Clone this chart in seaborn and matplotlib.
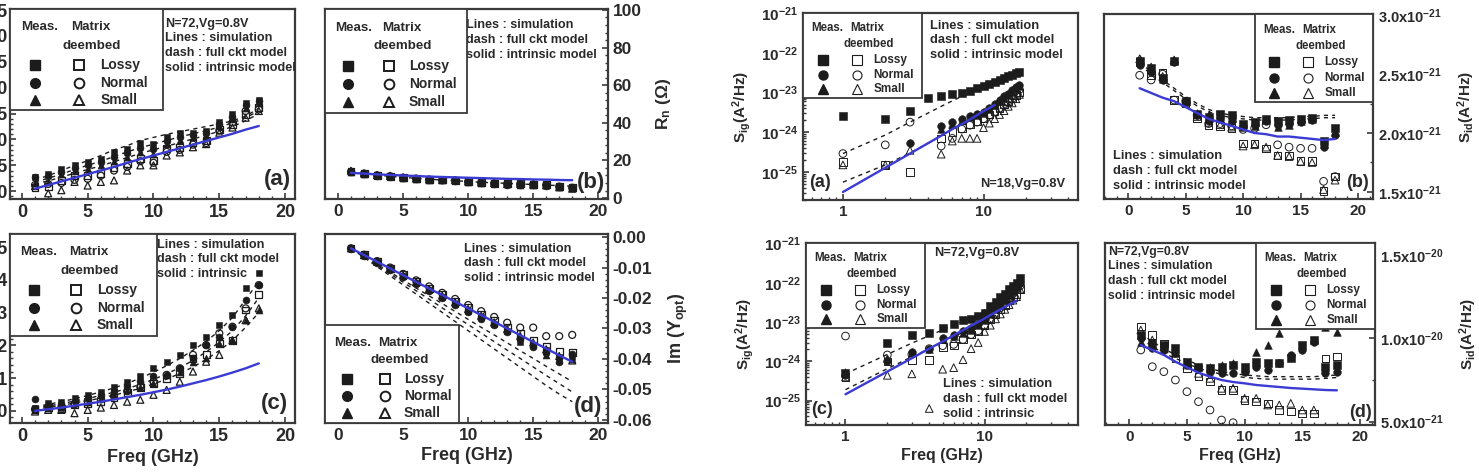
import numpy as np
import pandas as pd
import seaborn as sns
import matplotlib.pyplot as plt
from matplotlib.patches import Rectangle
from matplotlib.ticker import (MultipleLocator, AutoMinorLocator, FuncFormatter,
                               LogLocator, NullFormatter, LogFormatterMathtext)

nan = np.nan
freq = list(range(1, 19))

# ---- left block, N=72 : NFmin ----
nf_ml = [0.27, 0.34, 0.43, 0.50, 0.56, 0.63, 0.75, 0.82, 0.94, 0.91, 1.04, 1.13, 1.13, 1.17, 1.33, 1.49, 1.71, 1.77]
nf_mn = [0.28, 0.30, 0.38, 0.45, 0.50, 0.57, 0.66, 0.74, 0.84, 0.82, 0.97, 1.05, 1.08, 1.12, 1.29, 1.44, 1.66, 1.74]
nf_ms = [0.16, 0.18, 0.34, 0.40, 0.43, 0.50, 0.59, 0.66, 0.75, 0.72, 0.91, 0.98, 1.04, 1.07, 1.26, 1.39, 1.61, 1.71]
nf_dl = [0.08, 0.10, 0.21, 0.31, 0.31, 0.34, 0.46, 0.53, 0.63, 0.59, 0.82, 0.85, 0.94, 0.98, 1.20, 1.29, 1.49, 1.61]
nf_dn = [0.12, 0.14, 0.16, 0.22, 0.24, 0.30, 0.40, 0.47, 0.58, 0.55, 0.76, 0.80, 0.90, 0.93, 1.17, 1.33, 1.55, 1.58]
nf_ds = [0.10, -0.04, 0.02, 0.18, 0.11, 0.18, 0.21, 0.40, 0.50, 0.50, 0.69, 0.75, 0.85, 0.91, 1.13, 1.23, 1.42, 1.55]
nf_fc1 = [0.22, 0.30, 0.40, 0.50, 0.59, 0.69, 0.80, 0.88, 0.98, 1.04, 1.10, 1.15, 1.20, 1.25, 1.30, 1.36, 1.45, 1.60]
nf_fc2 = [0.18, 0.25, 0.33, 0.42, 0.50, 0.58, 0.67, 0.76, 0.84, 0.91, 0.98, 1.05, 1.11, 1.17, 1.24, 1.32, 1.42, 1.55]
nf_fc3 = [0.14, 0.20, 0.27, 0.35, 0.42, 0.49, 0.57, 0.65, 0.73, 0.80, 0.87, 0.94, 1.01, 1.08, 1.16, 1.25, 1.36, 1.50]
nf_int = [0.05, 0.12, 0.19, 0.26, 0.33, 0.40, 0.47, 0.55, 0.62, 0.69, 0.76, 0.83, 0.90, 0.97, 1.04, 1.11, 1.19, 1.26]

# ---- Rn (ohm) ----
rn_ml = [13.9, 13.0, 12.1, 11.6, 10.9, 10.4, 9.8, 9.5, 9.5, 8.6, 8.1, 7.7, 7.4, 7.4, 7.2, 6.8, 6.0, 5.6]
rn_mn = [13.6, 12.8, 11.9, 11.4, 10.7, 10.2, 9.7, 9.4, 9.3, 8.5, 8.0, 7.6, 7.2, 7.1, 6.9, 6.6, 5.8, 5.3]
rn_ms = [13.8, 12.9, 12.0, 11.5, 10.8, 10.3, 9.8, 9.4, 9.4, 8.6, 8.1, 7.8, 7.3, 7.2, 7.0, 6.7, 5.9, 5.4]
rn_dl = [14.2, 13.1, 12.2, 11.7, 11.0, 10.5, 9.9, 9.6, 9.5, 8.8, 8.3, 7.9, 7.6, 7.5, 7.4, 7.0, 6.3, 5.8]
rn_dn = [14.0, 13.0, 12.1, 11.6, 10.8, 10.3, 9.8, 9.5, 9.4, 8.7, 8.2, 7.8, 7.5, 7.4, 7.3, 6.9, 6.1, 5.5]
rn_ds = [14.5, 13.1, 12.2, 11.8, 11.0, 10.4, 9.9, 9.6, 9.6, 8.8, 8.3, 8.0, 7.5, 7.6, 7.2, 6.8, 5.8, 5.0]
rn_fc1 = [14.0, 13.0, 12.2, 11.6, 11.0, 10.5, 10.0, 9.6, 9.2, 8.8, 8.4, 8.1, 7.8, 7.5, 7.2, 6.9, 6.6, 6.3]
rn_int = [13.4, 13.0, 12.6, 12.3, 12.0, 11.7, 11.4, 11.2, 11.0, 10.8, 10.6, 10.4, 10.2, 10.1, 9.9, 9.8, 9.6, 9.5]

# ---- Re(Yopt) ----
re_ml = [0.10, 0.23, 0.28, 0.39, 0.49, 0.59, 0.74, 0.89, 1.05, 1.30, 1.50, 1.71, 2.01, 2.27, 2.62, 2.93, 3.74, 4.20]
re_mn = [0.36, 0.15, 0.20, 0.30, 0.38, 0.48, 0.62, 0.75, 0.90, 1.05, 1.10, 1.30, 1.61, 2.01, 2.27, 2.57, 3.38, 3.84]
re_ms = [0.05, 0.08, 0.13, 0.23, 0.28, 0.39, 0.49, 0.64, 0.74, 0.84, 1.10, 1.20, 1.50, 1.61, 2.06, 2.16, 2.77, 3.08]
re_dl = [0.03, 0.10, 0.08, 0.18, 0.23, 0.30, 0.40, 0.55, 0.70, 0.84, 1.00, 1.15, 1.60, 1.71, 2.06, 2.16, 3.08, 3.54]
re_dn = [0.05, 0.12, 0.10, 0.20, 0.30, 0.35, 0.45, 0.60, 0.74, 0.90, 1.10, 1.30, 1.71, 2.01, 2.37, 2.57, 3.13, 3.84]
re_ds = [-0.02, 0.03, 0.03, -0.07, 0.03, 0.10, 0.18, 0.28, 0.34, 0.49, 0.64, 0.89, 1.20, 1.50, 1.71, 2.16, 2.77, 3.13]
re_fc1 = [0.12, 0.20, 0.28, 0.37, 0.47, 0.58, 0.70, 0.84, 1.00, 1.18, 1.38, 1.60, 1.85, 2.12, 2.45, 2.85, 3.40, 3.95]
re_fc2 = [0.08, 0.15, 0.22, 0.30, 0.38, 0.47, 0.57, 0.68, 0.81, 0.96, 1.13, 1.32, 1.54, 1.80, 2.10, 2.45, 2.90, 3.45]
re_fc3 = [0.05, 0.11, 0.17, 0.24, 0.31, 0.39, 0.48, 0.58, 0.69, 0.82, 0.97, 1.14, 1.34, 1.57, 1.84, 2.15, 2.55, 3.00]
re_int = [0.00, 0.05, 0.10, 0.16, 0.22, 0.28, 0.35, 0.42, 0.49, 0.57, 0.65, 0.74, 0.84, 0.94, 1.05, 1.17, 1.30, 1.45]

# ---- Im(Yopt) ----
im_ml = [-0.0037, -0.0060, -0.0083, -0.0106, -0.0128, -0.0151, -0.0173, -0.0196, -0.0218, -0.0241, -0.0263, -0.0286, -0.0309, -0.0343, -0.0354, -0.0370, -0.0395, -0.0392]
im_mn = [-0.0038, -0.0061, -0.0084, -0.0107, -0.0130, -0.0153, -0.0176, -0.0200, -0.0222, -0.0245, -0.0268, -0.0290, -0.0313, -0.0335, -0.0360, -0.0381, -0.0409, -0.0385]
im_ms = [-0.0036, -0.0058, -0.0080, -0.0103, -0.0125, -0.0148, -0.0170, -0.0193, -0.0215, -0.0238, -0.0260, -0.0282, -0.0305, -0.0328, -0.0350, -0.0387, -0.0402, -0.0400]
im_dl = [-0.0036, -0.0058, -0.0080, -0.0102, -0.0124, -0.0146, -0.0168, -0.0190, -0.0211, -0.0232, -0.0254, -0.0275, -0.0296, -0.0317, -0.0338, -0.0360, -0.0375, -0.0380]
im_dn = [-0.0037, -0.0058, -0.0079, -0.0100, -0.0121, -0.0142, -0.0162, -0.0183, -0.0203, -0.0223, -0.0243, -0.0262, -0.0281, -0.0297, -0.0297, -0.0325, -0.0325, -0.0321]
im_ds = [-0.0037, -0.0059, -0.0081, -0.0103, -0.0126, -0.0148, -0.0170, -0.0192, -0.0214, -0.0236, -0.0258, -0.0280, -0.0302, -0.0324, -0.0346, -0.0368, -0.0390, -0.0405]
im_fc1 = [-0.0037, -0.0063, -0.0089, -0.0115, -0.0141, -0.0167, -0.0193, -0.0218, -0.0244, -0.0270, -0.0296, -0.0321, -0.0347, -0.0373, -0.0398, -0.0424, -0.0449, -0.0474]
im_fc2 = [-0.0037, -0.0065, -0.0093, -0.0121, -0.0148, -0.0176, -0.0204, -0.0232, -0.0260, -0.0287, -0.0315, -0.0343, -0.0371, -0.0398, -0.0426, -0.0454, -0.0481, -0.0508]
im_fc3 = [-0.0037, -0.0067, -0.0097, -0.0127, -0.0157, -0.0187, -0.0217, -0.0247, -0.0277, -0.0307, -0.0337, -0.0367, -0.0397, -0.0427, -0.0457, -0.0487, -0.0515, -0.0540]
im_int = [-0.0037, -0.0059, -0.0081, -0.0103, -0.0125, -0.0147, -0.0169, -0.0190, -0.0212, -0.0234, -0.0256, -0.0278, -0.0300, -0.0322, -0.0344, -0.0366, -0.0388, -0.0409]

# ---- right block : Sig, N=18 (A^2/Hz) ----
sig18_ml = [2.6e-24, 2.2e-24, 3.4e-24, 7.5e-24, 8.0e-24, 9.0e-24, 1.0e-23, 1.1e-23, 1.3e-23, 1.5e-23, 1.7e-23, 1.9e-23, 2.1e-23, 2.3e-23, 2.6e-23, 2.8e-23, 3.1e-23, 3.3e-23]
sig18_mn = [nan, nan, 5.5e-25, nan, 1.4e-24, 1.8e-24, 2.2e-24, 2.6e-24, 2.9e-24, 3.3e-24, 4.2e-24, 5.3e-24, 6.5e-24, 8.0e-24, 9.5e-24, 1.15e-23, 1.35e-23, 1.6e-23]
sig18_ms = [nan, nan, nan, nan, 1.2e-24, 1.6e-24, 2.0e-24, 2.4e-24, 2.7e-24, 3.0e-24, 3.9e-24, 5.0e-24, 6.0e-24, 7.4e-24, 8.8e-24, 1.05e-23, 1.25e-23, 1.5e-23]
sig18_dl = [1.8e-25, 1.5e-25, 1.0e-25, nan, 7.0e-25, 1.0e-24, 1.3e-24, 1.6e-24, 1.9e-24, 2.3e-24, 2.8e-24, 3.4e-24, 4.1e-24, 5.0e-24, 6.0e-24, 7.2e-24, 8.6e-24, 1.0e-23]
sig18_dn = [2.9e-25, 4.8e-25, 1.8e-24, nan, 4.5e-25, 7.0e-25, 1.2e-24, 1.5e-24, 1.8e-24, 2.2e-24, 2.7e-24, 3.3e-24, 4.0e-24, 4.8e-24, 5.8e-24, 7.0e-24, 8.5e-24, 1.2e-23]
sig18_ds = [1.5e-25, 1.5e-25, 3.5e-25, nan, 2.8e-25, 6.0e-25, 7.0e-25, 7.0e-25, 7.0e-25, 1.3e-24, 1.7e-24, 2.2e-24, 2.8e-24, 3.5e-24, 4.5e-24, 5.5e-24, 7.0e-24, 9.0e-24]
sig18_fc1 = [2.9e-25, 8.5e-25, 1.8e-24, 3.0e-24, 4.5e-24, 6.2e-24, 8.0e-24, 9.8e-24, 1.2e-23, 1.4e-23, 1.6e-23, 1.85e-23, 2.1e-23, 2.3e-23, 2.55e-23, 2.8e-23, 3.05e-23, 3.3e-23]
sig18_fc2 = [5.5e-26, 1.5e-25, 3.0e-25, 5.2e-25, 8.2e-25, 1.2e-24, 1.6e-24, 2.0e-24, 2.5e-24, 3.0e-24, 3.7e-24, 4.6e-24, 5.6e-24, 7.0e-24, 8.5e-24, 1.05e-23, 1.3e-23, 1.6e-23]
sig18_int = [3.1e-26, 1.27e-25, 2.9e-25, 5.2e-25, 8.2e-25, 1.2e-24, 1.6e-24, 2.1e-24, 2.7e-24, 3.4e-24, 4.1e-24, 4.9e-24]

# ---- Sid, N=18 (x1e-21 A^2/Hz) ----
sid18_ml = [2.61, 2.55, 2.47, 2.61, 2.27, 2.16, 2.14, 2.16, 2.15, 2.08, 2.09, 2.12, 2.10, 2.11, 2.12, 2.13, 1.93, 2.04]
sid18_mn = [2.58, 2.52, 2.45, 2.60, 2.26, 2.15, 2.10, 2.12, 2.10, 2.06, 2.07, 2.10, 2.07, 2.08, 2.09, 2.11, 1.88, 1.98]
sid18_ms = [2.63, 2.54, 2.46, 2.62, 2.27, 2.17, 2.16, 2.14, 2.13, 2.05, 2.06, 2.11, 2.05, 2.07, 2.10, 2.12, 1.91, 2.01]
sid18_dl = [2.60, 2.49, 2.51, 2.28, 2.25, 2.13, 2.07, 2.06, 2.04, 1.91, 1.91, 1.87, 1.81, 1.81, 1.76, 1.76, 1.51, 1.63]
sid18_dn = [2.49, 2.45, 2.50, 2.28, 2.27, 2.15, 2.08, 2.08, 2.06, 2.03, 2.04, 2.07, 1.90, 1.88, 1.87, 1.87, 1.59, 1.63]
sid18_ds = [2.63, 2.56, 2.48, 2.62, 2.26, 2.14, 2.09, 2.07, 2.05, 1.89, 1.90, 1.88, 1.81, 1.80, 1.76, 1.75, 1.52, 1.60]
sid18_fc1 = [2.60, 2.52, 2.45, 2.38, 2.31, 2.25, 2.20, 2.17, 2.15, 2.14, 2.13, 2.13, 2.13, 2.13, 2.14, 2.14, 2.15, 2.15]
sid18_fc2 = [2.58, 2.50, 2.43, 2.36, 2.29, 2.23, 2.18, 2.15, 2.13, 2.12, 2.11, 2.11, 2.11, 2.11, 2.12, 2.12, 2.13, 2.13]
sid18_int = [2.38, 2.34, 2.30, 2.27, 2.22, 2.17, 2.12, 2.09, 2.06, 2.03, 2.00, 1.99, 1.97, 1.97, 1.96, 1.95, 1.94, 1.95]

# ---- Sig, N=72 (A^2/Hz) ----
sig72_ml = [5.0e-25, 3.0e-24, 4.8e-24, 5.2e-24, 6.9e-24, 9.1e-24, 1.1e-23, 1.2e-23, 1.45e-23, 1.74e-23, 2.5e-23, 3.3e-23, 4.4e-23, 5.2e-23, 6.9e-23, 8.3e-23, 1.0e-22, 1.32e-22]
sig72_mn = [4.6e-25, 1.0e-24, 1.74e-24, 2.1e-24, 4.0e-24, 4.8e-24, 5.75e-24, 6.9e-24, 9.1e-24, 1.2e-23, 1.74e-23, 2.3e-23, 3.0e-23, 4.0e-23, 5.2e-23, 6.3e-23, 7.6e-23, 1.0e-22]
sig72_ms = [5.2e-25, 1.2e-24, 1.74e-24, 2.0e-24, 3.6e-24, 4.4e-24, 5.2e-24, 6.3e-24, 8.3e-24, 1.1e-23, 1.6e-23, 2.1e-23, 2.75e-23, 3.6e-23, 4.8e-23, 6.0e-23, 7.6e-23, 1.2e-22]
sig72_dl = [4.0e-25, 1.0e-24, 1.1e-24, 1.1e-24, 2.3e-24, 2.5e-24, 3.6e-24, 4.8e-24, 5.75e-24, 8.3e-24, 1.2e-23, 1.6e-23, 2.1e-23, 2.75e-23, 3.6e-23, 4.4e-23, 5.2e-23, 6.9e-23]
sig72_dn = [4.4e-24, 1.45e-24, 1.5e-24, 2.1e-24, 2.5e-24, 2.7e-24, 3.6e-24, 4.8e-24, 6.0e-24, 8.3e-24, 1.2e-23, 1.6e-23, 2.3e-23, 3.0e-23, 4.0e-23, 5.2e-23, 6.9e-23, 8.3e-23]
sig72_ds = [4.0e-25, 4.4e-25, 4.8e-25, 6.3e-26, 6.3e-25, 6.9e-25, 1.1e-24, 2.1e-24, 3.0e-24, 5.75e-24, 8.3e-24, 1.2e-23, 1.6e-23, 2.1e-23, 2.75e-23, 3.6e-23, 4.4e-23, 6.9e-23]
sig72_fc1 = [4.8e-25, 1.5e-24, 2.9e-24, 4.5e-24, 6.3e-24, 8.3e-24, 1.05e-23, 1.3e-23, 1.6e-23, 2.0e-23, 2.5e-23, 3.2e-23, 4.0e-23, 5.0e-23, 6.3e-23, 7.8e-23, 1.0e-22, 1.3e-22]
sig72_fc2 = [1.9e-25, 6.5e-25, 1.3e-24, 2.1e-24, 3.1e-24, 4.2e-24, 5.5e-24, 7.0e-24, 8.8e-24, 1.1e-23, 1.45e-23, 1.9e-23, 2.5e-23, 3.2e-23, 4.2e-23, 5.4e-23, 7.0e-23, 9.5e-23]
sig72_int = [1.45e-25, 5.5e-25, 1.2e-24, 2.1e-24, 3.2e-24, 4.6e-24, 6.2e-24, 8.1e-24, 1.0e-23, 1.23e-23, 1.5e-23, 1.78e-23, 2.1e-23, 2.4e-23, 2.75e-23, 3.1e-23, 3.5e-23]

# ---- Sid, N=72 (x1e-21 A^2/Hz) ----
sid72_ml = [10.2, 9.7, 9.6, 9.4, 8.6, 8.3, 8.2, 8.3, 8.4, 8.3, 8.6, 8.5, 8.5, 8.8, 9.6, 9.9, 8.3, 8.4]
sid72_mn = [10.0, 9.4, 9.3, 9.1, 8.4, 8.2, 8.0, 7.9, 7.9, 8.0, 8.3, 8.1, 8.5, 9.0, 9.3, 9.8, 7.9, 8.0]
sid72_ms = [9.8, 9.6, 9.4, 9.2, 8.5, 8.3, 8.3, 8.4, 8.5, 8.2, 9.2, 9.6, 10.3, 11.2, 10.8, 11.4, 10.7, 10.4]
sid72_dl = [10.7, 10.2, 9.7, 8.8, 8.2, 7.7, 7.4, 6.9, 6.9, 6.3, 6.2, 6.1, 5.7, 5.6, 5.5, 5.5, 8.8, 8.9]
sid72_dn = [9.3, 8.3, 8.0, 7.5, 6.8, 6.2, 5.7, 5.1, 4.94, nan, nan, nan, nan, nan, nan, nan, nan, nan]
sid72_ds = [10.5, 9.9, 9.5, 9.1, 8.4, 7.9, 7.6, 7.0, 7.0, 6.4, 6.4, 6.0, 6.0, 6.1, 5.7, 5.7, nan, nan]
sid72_fc1 = [10.3, 9.8, 9.4, 9.0, 8.7, 8.4, 8.2, 8.0, 7.9, 7.8, 7.75, 7.7, 7.7, 7.7, 7.7, 7.7, 7.75, 7.8]
sid72_fc2 = [10.0, 9.5, 9.1, 8.8, 8.5, 8.2, 8.0, 7.85, 7.75, 7.65, 7.6, 7.55, 7.55, 7.55, 7.55, 7.55, 7.6, 7.65]
sid72_int = [9.6, 9.3, 9.0, 8.6, 8.26, 7.94, 7.7, 7.5, 7.38, 7.3, 7.2, 7.14, 7.08, 7.02, 6.98, 6.94, 6.9, 6.88]

device_labels = ['Lossy', 'Normal', 'Small']

INK = '#1c1c1c'
TXT = '#2a2a2a'
EDGE = '#3a3a3a'
BLUE = '#3b3bd4'
MARKS = ['s', 'o', '^']

sns.set_style('ticks')
plt.rcParams['font.family'] = ['Liberation Sans', 'DejaVu Sans']
plt.rcParams['font.weight'] = 'bold'
plt.rcParams['axes.labelweight'] = 'bold'
plt.rcParams['mathtext.fontset'] = 'custom'
plt.rcParams['mathtext.rm'] = 'Liberation Sans:bold'
plt.rcParams['mathtext.it'] = 'Liberation Sans:bold'
plt.rcParams['mathtext.bf'] = 'Liberation Sans:bold'
plt.rcParams['mathtext.default'] = 'rm'

fig = plt.figure(figsize=(14.79, 4.73), dpi=100)
W, H = 1479.0, 473.0


def add_ax(x0, y0, x1, y1):
    # pixel box (top-left origin) -> figure fraction
    return fig.add_axes([x0 / W, 1 - y1 / H, (x1 - x0) / W, (y1 - y0) / H])


def draw_series(ax, meas, deemb, dashes, intr, scale=1.0, ms=5.0, olw=0.9):
    for vals, mk in zip(meas, MARKS):
        y = np.array(vals, dtype=float) * scale
        sns.scatterplot(x=freq, y=y, ax=ax, marker=mk, s=ms ** 2, color=INK,
                        edgecolor=INK, linewidth=0.4, zorder=3, legend=False)
    for vals, mk in zip(deemb, MARKS):
        y = np.array(vals, dtype=float) * scale
        sns.scatterplot(x=freq, y=y, ax=ax, marker=mk, s=ms ** 2, facecolor='none',
                        edgecolor=INK, linewidth=olw, zorder=3, legend=False)
    for d in dashes:
        y = np.array(d, dtype=float) * scale
        sns.lineplot(x=freq[:len(d)], y=y, ax=ax, color=INK, linewidth=1.0,
                     linestyle=(0, (3, 3)), zorder=2, legend=False)
    y = np.array(intr, dtype=float) * scale
    sns.lineplot(x=freq[:len(intr)], y=y, ax=ax, color=BLUE, linewidth=1.7, zorder=4, legend=False)


def frame(ax, yside='left', tick_fs=13):
    for sp in ax.spines.values():
        sp.set_linewidth(1.6)
        sp.set_color(EDGE)
    ax.set_facecolor('white')
    ax.tick_params(which='both', direction='in', color=EDGE, labelcolor=TXT,
                   labelsize=tick_fs, top=False, bottom=True)
    ax.tick_params(which='major', length=4, width=1.2)
    ax.tick_params(which='minor', length=2, width=1.0)
    if yside == 'right':
        ax.yaxis.tick_right()
        ax.yaxis.set_label_position('right')
        ax.tick_params(axis='y', which='both', left=False, right=True)
    else:
        ax.tick_params(axis='y', which='both', left=True, right=False)
    ax.set_xlabel('')
    ax.set_ylabel('')


def draw_key(ax, box, fs_head, fs_lab, ms, olw):
    x0, x1, y0, y1 = box
    w, h = x1 - x0, y1 - y0
    ax.add_patch(Rectangle((x0, y0), w, h, transform=ax.transAxes, facecolor='white',
                           edgecolor=EDGE, linewidth=1.3, zorder=6, clip_on=False))
    fx = lambda f: x0 + f * w
    fy = lambda f: y1 - f * h
    kw = dict(transform=ax.transAxes, zorder=7, color=TXT, va='center', ha='left')
    ax.text(fx(0.07), fy(0.18), 'Meas.', fontsize=fs_head, **kw)
    ax.text(fx(0.40), fy(0.18), 'Matrix', fontsize=fs_head, **kw)
    ax.text(fx(0.34), fy(0.36), 'deembed', fontsize=fs_head, **kw)
    for mk, lab, fr in zip(MARKS, device_labels, [0.55, 0.725, 0.895]):
        ax.plot([fx(0.165)], [fy(fr)], marker=mk, ms=ms, color=INK, linestyle='none',
                transform=ax.transAxes, zorder=7, clip_on=False)
        ax.plot([fx(0.45)], [fy(fr)], marker=mk, ms=ms, markerfacecolor='none',
                markeredgecolor=INK, markeredgewidth=olw, linestyle='none',
                transform=ax.transAxes, zorder=7, clip_on=False)
        ax.text(fx(0.59), fy(fr), lab, fontsize=fs_lab, **kw)


def note(ax, x, y, s, fs, ha='left', va='top', ls=1.3):
    ax.text(x, y, s, transform=ax.transAxes, fontsize=fs, ha=ha, va=va, color=TXT,
            linespacing=ls, zorder=5)


def sci_fmt(v, pos):
    if v <= 0:
        return ''
    e = int(np.floor(np.log10(v) + 1e-9))
    m = v / 10 ** e
    return '%.1fx10$^{%d}$' % (m, e)


lines3 = 'Lines : simulation\ndash : full ckt model\nsolid : intrinsic model'

# ================= left block =================
# (a) NFmin
ax = add_ax(10, 9, 295, 199)
draw_series(ax, [nf_ml, nf_mn, nf_ms], [nf_dl, nf_dn, nf_ds], [nf_fc1, nf_fc2, nf_fc3], nf_int)
frame(ax, 'left')
ax.set_xlim(-0.9, 20.75)
ax.set_ylim(-0.15, 3.52)
ax.yaxis.set_major_locator(MultipleLocator(0.5))
ax.yaxis.set_major_formatter(FuncFormatter(lambda v, p: '%.1f' % v))
ax.tick_params(axis='y', pad=1.5)
draw_key(ax, (0.0, 0.537, 0.466, 1.0), 9.6, 10, 7, 1.4)
note(ax, 0.545, 0.955, 'N=72,Vg=0.8V\n' + lines3, 9.1)
note(ax, 0.985, 0.10, '(a)', 16, ha='right', va='center')

# (b) Rn
ax = add_ax(325, 9, 608, 199)
draw_series(ax, [rn_ml, rn_mn, rn_ms], [rn_dl, rn_dn, rn_ds], [rn_fc1], rn_int)
frame(ax, 'right', tick_fs=12.5)
ax.set_xlim(-1.0, 20.75)
ax.set_ylim(-0.5, 100.5)
ax.yaxis.set_major_locator(MultipleLocator(20))
ax.set_ylabel('R$_n$ (Ω)', fontsize=12.5, color=TXT, labelpad=9)
draw_key(ax, (0.0, 0.502, 0.455, 1.0), 9.6, 10, 7, 1.4)
note(ax, 0.50, 0.945, lines3, 9.1)
note(ax, 0.99, 0.085, '(b)', 16, ha='right', va='center')

# (c) Re(Yopt)
ax = add_ax(10, 234, 295, 423)
draw_series(ax, [re_ml, re_mn, re_ms], [re_dl, re_dn, re_ds], [re_fc1, re_fc2, re_fc3], re_int)
frame(ax, 'left')
ax.set_xlim(-0.9, 20.75)
ax.set_ylim(-0.37, 5.4)
ax.yaxis.set_major_locator(MultipleLocator(1))
ax.yaxis.set_major_formatter(FuncFormatter(lambda v, p: '%.1f' % (v / 10)))
ax.tick_params(axis='y', pad=1.5)
ax.set_xlabel('Freq (GHz)', fontsize=13, color=TXT, labelpad=3)
draw_key(ax, (0.0, 0.516, 0.46, 1.0), 9.6, 10, 7, 1.4)
note(ax, 0.515, 0.975, 'Lines : simulation\ndash : full ckt model\nsolid : intrinsic', 9.1)
note(ax, 0.975, 0.105, '(c)', 16, ha='right', va='center')

# (d) Im(Yopt)
ax = add_ax(325, 234, 608, 423)
draw_series(ax, [im_ml, im_mn, im_ms], [im_dl, im_dn, im_ds], [im_fc1, im_fc2, im_fc3], im_int)
frame(ax, 'right', tick_fs=12.5)
ax.set_xlim(-1.0, 20.75)
ax.set_ylim(-0.0610, 0.0010)
ax.yaxis.set_major_locator(MultipleLocator(0.01))
ax.yaxis.set_major_formatter(FuncFormatter(lambda v, p: '%.2f' % v if abs(v) > 1e-9 else '0.00'))
ax.set_ylabel('Im (Y$_{opt}$)', fontsize=13, color=TXT, labelpad=10)
ax.set_xlabel('Freq (GHz)', fontsize=13, color=TXT, labelpad=3)
draw_key(ax, (0.0, 0.473, 0.0, 0.519), 9.6, 10, 7, 1.4)
note(ax, 0.49, 0.955, lines3, 9.1)
note(ax, 0.98, 0.085, '(d)', 16, ha='right', va='center')

for a in fig.axes:
    a.xaxis.set_major_locator(MultipleLocator(5))
    a.xaxis.set_minor_locator(MultipleLocator(1))
    a.yaxis.set_minor_locator(AutoMinorLocator(5))

# ================= right block =================
def log_frame(ax, ylo, yhi):
    ax.set_xscale('log')
    ax.set_yscale('log')
    frame(ax, 'left', tick_fs=11)
    ax.set_xlim(0.52, 47)
    ax.set_ylim(ylo, yhi)
    ax.xaxis.set_major_locator(LogLocator(base=10))
    ax.xaxis.set_major_formatter(FuncFormatter(lambda v, p: '%g' % v))
    ax.xaxis.set_minor_locator(LogLocator(base=10, subs=np.arange(2, 10)))
    ax.xaxis.set_minor_formatter(NullFormatter())
    ax.yaxis.set_major_locator(LogLocator(base=10, numticks=10))
    ax.yaxis.set_major_formatter(LogFormatterMathtext())
    ax.yaxis.set_minor_locator(LogLocator(base=10, subs=np.arange(2, 10), numticks=10))
    ax.yaxis.set_minor_formatter(NullFormatter())
    ax.set_ylabel('S$_{ig}$(A$^2$/Hz)', fontsize=11, color=TXT, labelpad=6)


def lin_frame(ax, ylo, yhi, major):
    frame(ax, 'right', tick_fs=10.5)
    ax.set_xlim(-2.1, 21.3)
    ax.set_ylim(ylo, yhi)
    ax.xaxis.set_major_locator(MultipleLocator(5))
    ax.xaxis.set_minor_locator(MultipleLocator(1))
    ax.yaxis.set_major_locator(MultipleLocator(major))
    ax.yaxis.set_minor_locator(AutoMinorLocator(2))
    ax.yaxis.set_major_formatter(FuncFormatter(sci_fmt))
    ax.tick_params(axis='x', labelsize=11)
    ax.set_ylabel('S$_{id}$(A$^2$/Hz)', fontsize=11, color=TXT, labelpad=10)


# (a) Sig N=18
ax = add_ax(803, 13, 1078, 200)
draw_series(ax, [sig18_ml, sig18_mn, sig18_ms], [sig18_dl, sig18_dn, sig18_ds],
            [sig18_fc1, sig18_fc2], sig18_int, ms=5.5, olw=0.7)
log_frame(ax, 10 ** -25.71, 10 ** -20.99)
draw_key(ax, (0.0, 0.433, 0.545, 1.0), 8.3, 8.5, 6.5, 0.8)
note(ax, 0.462, 0.965, lines3, 9.3)
note(ax, 0.955, 0.085, 'N=18,Vg=0.8V', 9.3, ha='right', va='center')
note(ax, 0.022, 0.095, '(a)', 13, ha='left', va='center')

# (b) Sid N=18
ax = add_ax(1104, 14, 1373, 199)
draw_series(ax, [sid18_ml, sid18_mn, sid18_ms], [sid18_dl, sid18_dn, sid18_ds],
            [sid18_fc1, sid18_fc2], sid18_int, scale=1e-21, ms=5.5, olw=0.7)
lin_frame(ax, 1.44e-21, 3.01e-21, 0.5e-21)
draw_key(ax, (0.561, 1.0, 0.524, 1.0), 8.3, 8.5, 6.5, 0.8)
note(ax, 0.032, 0.04, lines3, 9.3, va='bottom')
note(ax, 0.985, 0.09, '(b)', 13, ha='right', va='center')

# (c) Sig N=72
ax = add_ax(806, 243, 1078, 425)
draw_series(ax, [sig72_ml, sig72_mn, sig72_ms], [sig72_dl, sig72_dn, sig72_ds],
            [sig72_fc1, sig72_fc2], sig72_int, ms=5.5, olw=0.7)
log_frame(ax, 10 ** -25.62, 10 ** -20.99)
ax.set_xlabel('Freq (GHz)', fontsize=11.5, color=TXT, labelpad=3)
draw_key(ax, (0.0, 0.4375, 0.533, 1.0), 8.3, 8.5, 6.5, 0.8)
note(ax, 0.47, 0.945, 'N=72,Vg=0.8V', 9.3, va='center')
note(ax, 0.505, 0.03, 'Lines : simulation\ndash : full ckt model\nsolid : intrinsic', 9.3, va='bottom')
note(ax, 0.018, 0.085, '(c)', 13, ha='left', va='center')

# (d) Sid N=72
ax = add_ax(1105, 243, 1375, 425)
draw_series(ax, [sid72_ml, sid72_mn, sid72_ms], [sid72_dl, sid72_dn, sid72_ds],
            [sid72_fc1, sid72_fc2], sid72_int, scale=1e-21, ms=5.5, olw=0.7)
lin_frame(ax, 4.8e-21, 1.572e-20, 0.5e-20)
ax.set_xlabel('Freq (GHz)', fontsize=11.5, color=TXT, labelpad=3)
draw_key(ax, (0.559, 1.0, 0.527, 1.0), 8.3, 8.5, 6.5, 0.8)
note(ax, 0.012, 0.985, 'N=72,Vg=0.8V\n' + lines3, 8.8)
note(ax, 0.99, 0.07, '(d)', 13, ha='right', va='center')

fig.savefig('out.png', dpi=100, facecolor='white')
